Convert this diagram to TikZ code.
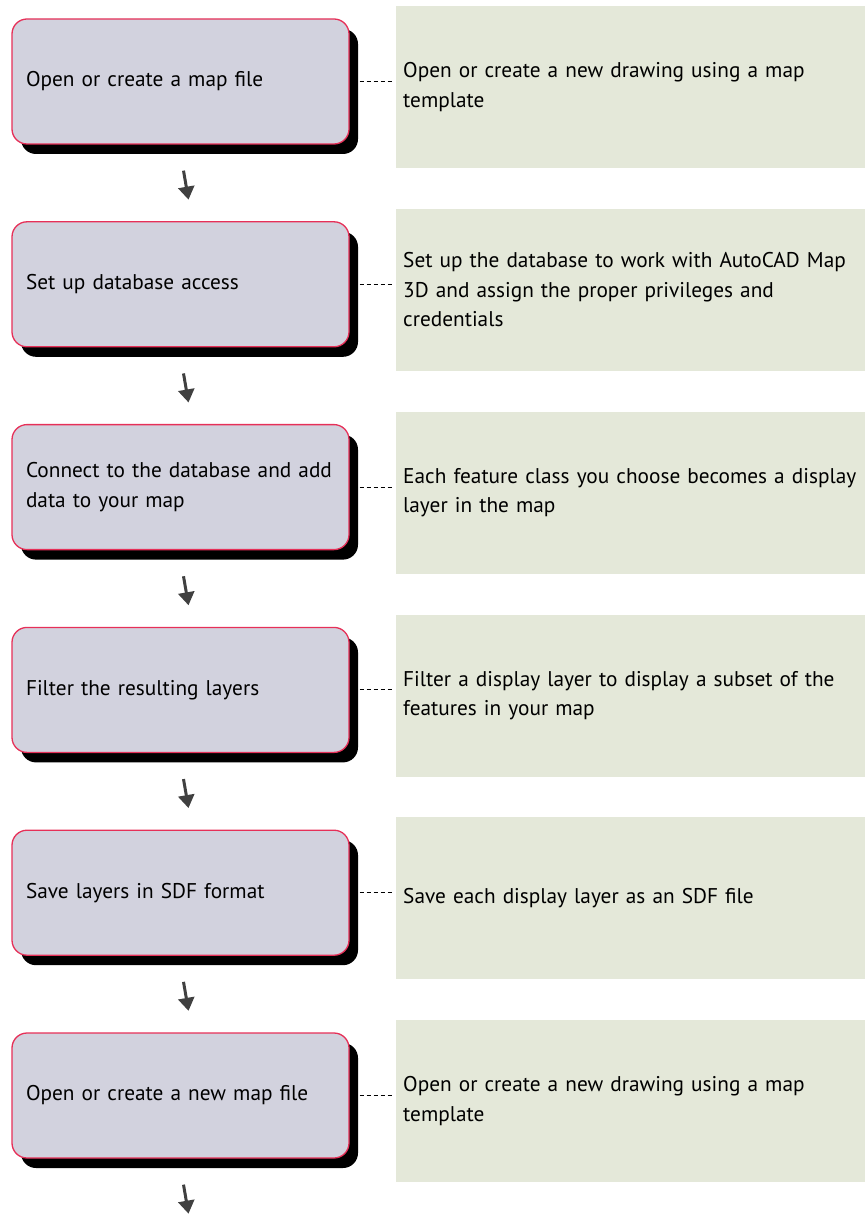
\documentclass[tikz,border=0pt]{standalone}
\usepackage{fontspec}
\setmainfont{PT Sans}
\usetikzlibrary{shadows,arrows.meta}

\definecolor{stepfill}{RGB}{210,210,222}
\definecolor{stepedge}{RGB}{230,48,88}
\definecolor{notefill}{RGB}{228,232,217}
\definecolor{arrowgray}{RGB}{64,64,64}

\newcommand\flowtextfont{\fontsize{21.3}{29.5}\selectfont\hyphenpenalty=10000\relax}

\tikzset{
  stepbox/.style={
    draw=stepedge, line width=1.3pt, fill=stepfill,
    rounded corners=15pt,
    minimum width=337pt, minimum height=125pt,
    text width=309pt, inner xsep=14pt, align=left,
    font=\flowtextfont,
    drop shadow={fill=black, opacity=1, shadow xshift=9pt, shadow yshift=-10pt}
  },
  notebox/.style={
    fill=notefill, draw=none, anchor=north west,
    minimum width=468pt, minimum height=162pt,
    text width=460pt, inner xsep=7pt, align=left,
    font=\flowtextfont
  },
  linkdash/.style={draw=black, line width=1.1pt, dash pattern=on 4pt off 3pt},
  flowarrow/.style={draw=arrowgray, line width=3pt,
    -{Triangle[width=16pt,length=13pt]}}
}

\begin{document}
\begin{tikzpicture}[x=1pt,y=1pt]
\useasboundingbox (0,0) rectangle (864,-1214);

% process steps (left column)
\node[stepbox] (p1) at (180.5,-81.5)  {Open or create a map file};
\node[stepbox] (p2) at (180.5,-284.3) {Set up database access};
\node[stepbox] (p3) at (180.5,-487.1) {Connect to the database and add\\data to your map};
\node[stepbox] (p4) at (180.5,-689.9) {Filter the resulting layers};
\node[stepbox] (p5) at (180.5,-892.7) {Save layers in SDF format};
\node[stepbox] (p6) at (180.5,-1095.5) {Open or create a new map file};

% explanations (right column)
\node[notebox] (g1) at (396,-6)     {Open or create a new drawing using a map\\template};
\node[notebox] (g2) at (396,-208.8) {Set up the database to work with AutoCAD Map\\3D and assign the proper privileges and\\credentials};
\node[notebox] (g3) at (396,-411.6) {Each feature class you choose becomes a display\\layer in the map};
\node[notebox] (g4) at (396,-614.4) {Filter a display layer to display a subset of the\\features in your map};
\node[notebox] (g5) at (396,-817.2) {Save each display layer as an SDF file};
\node[notebox] (g6) at (396,-1020)  {Open or create a new drawing using a map\\template};

% dashed links from each step to its explanation
\foreach \i in {1,...,6}{
  \draw[linkdash] ([xshift=10pt]p\i.east) -- ([xshift=-4pt]p\i.east -| g\i.west);
}

% small arrows below each step
\foreach \i in {1,...,6}{
  \coordinate (s\i) at ([xshift=3pt,yshift=-26pt]p\i.south);
  \coordinate (e\i) at ([xshift=8pt,yshift=-55pt]p\i.south);
  \draw[flowarrow] (s\i) -- (e\i);
}
\end{tikzpicture}
\end{document}
